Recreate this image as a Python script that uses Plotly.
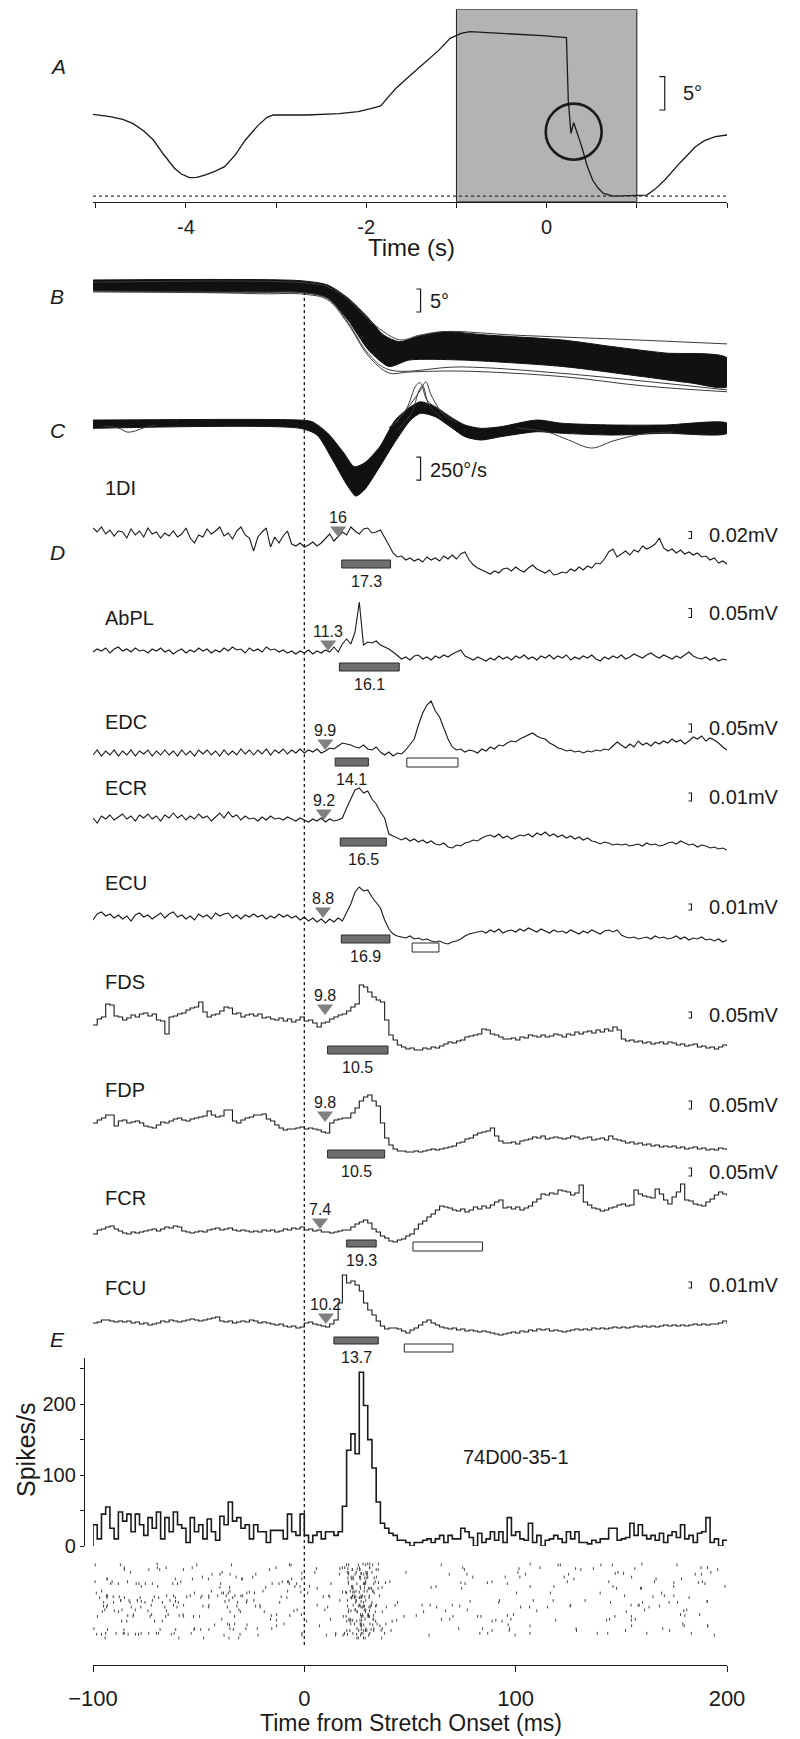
import plotly.graph_objects as go

W, H = 800, 1739
FONT = "Liberation Sans, Arial, Helvetica, sans-serif"
INK = "#1a1a1a"


def yp(p):
    return 1 - p / H


def xp(p):
    return p / W


# ------------------------------------------------------------------ data
# Panel A: wrist angle during a whole trial (s, degrees above the flexion limit)
A_TIME = [-5.03, -4.84, -4.7, -4.59, -4.47, -4.36, -4.25, -4.13, -4.05, -3.96, -3.88, -3.79, -3.68,
          -3.57, -3.45, -3.34, -3.2, -3.1, -3.03, -2.66, -2.3, -2.09, -1.95, -1.84, -1.76, -1.67,
          -1.52, -1.36, -1.2, -1.07, -0.95, -0.85, -0.62, -0.39, -0.05, 0.22, 0.23, 0.24, 0.26,
          0.27, 0.29, 0.30, 0.32, 0.34, 0.37, 0.40, 0.45, 0.51, 0.57, 0.63, 0.74, 1.11, 1.2, 1.31,
          1.48, 1.65, 1.75, 1.87, 2.0]
A_ANGLE = [12.25, 11.9, 11.5, 10.9, 9.8, 8.4, 6.3, 4.2, 3.3, 2.75, 2.8, 3.15, 3.7,
           4.4, 6.2, 8.4, 10.6, 11.8, 12.15, 12.15, 12.35, 12.65, 13.1, 13.5, 14.8, 16.15,
           18.0, 19.9, 21.8, 23.65, 24.4, 24.65, 24.5, 24.25, 24.05, 23.75, 18.0, 14.4, 11.0,
           9.4, 10.5, 11.0, 10.2, 9.5, 8.2, 6.9, 4.5, 2.4, 1.2, 0.4, 0.0, 0.15, 1.0, 2.4,
           5.0, 7.4, 8.3, 8.9, 9.15]
A_WINDOW = (-1.0, 1.0)
A_CIRCLE = (0.30, 9.65)

# Panel B: angle, envelope of the overlaid trials (ms, deg)
B_UP_T = [-100, -2, 11, 20.6, 30.3, 37.5, 44.9, 54.5, 66.6, 86, 122, 146, 170.7, 200]
B_UP = [0, -0.15, -1.09, -3.91, -8.26, -11.96, -13.41, -12.17, -11.24, -11.96, -13.04, -14.5, -15.87, -16.96]
B_LO_T = [-100, -40, -1, 11, 20.6, 30.3, 40, 49.7, 74, 122, 160, 183, 200]
B_LO = [-2.33, -2.6, -2.72, -3.91, -8.7, -15.2, -18.8, -17.4, -17.4, -18.8, -21.0, -22.4, -23.2]
B_STRAY = [
    ([-100, 0, 11, 20.6, 30.3, 44.9, 54.5, 66.6, 100, 150, 200],
     [-0.5, -0.6, -1.5, -4.2, -8.6, -13.0, -12.0, -11.2, -12.0, -12.9, -13.9]),
    ([-100, -40, -20, 0, 11, 20.6, 30.3, 40, 49.7, 74, 122, 160, 200],
     [-2.6, -2.8, -3.0, -3.1, -4.3, -9.5, -16.5, -20.2, -20.0, -19.8, -21.0, -23.0, -24.3]),
    ([-100, -20, 0, 11, 20.6, 30.3, 40, 74, 122, 200],
     [-2.4, -2.7, -2.8, -4.0, -9.2, -16.0, -19.5, -18.9, -20.3, -23.9]),
]

# Panel C: angular velocity envelope (ms, deg/s)
C_UP_T = [-100, -2, 3.7, 11, 18.7, 23.6, 28.4, 35.7, 43, 50.3, 55, 62, 69, 76, 83.5, 93, 110, 122, 146, 170.7, 200]
C_UP = [43, 43, 25, -98, -315, -464, -424, -247, 43, 188, 242, 188, 79, -11, -47, -29, 43, 8, -11, -11, 8]
C_LO_T = [-100, -2, 6, 13.4, 20.7, 24.4, 28.4, 35.7, 43, 50.3, 55, 62, 69, 76, 83.5, 93, 110, 122, 146, 170.7, 200]
C_LO = [-47, -47, -120, -391, -682, -783, -717, -464, -192, 43, 116, 79, -29, -138, -174, -138, -84, -101, -120, -101, -101]
C_STRAY = [
    ([40, 48, 53, 55, 58, 64, 70], [-43, 152, 424, 446, 261, 152, 65]),
    ([42, 50, 55, 57.5, 60, 66, 72], [-22, 207, 370, 457, 315, 98, 22]),
    ([44, 51, 54, 56, 59, 65], [-65, 130, 348, 413, 207, 65]),
    ([100, 115, 125, 136, 146, 160, 175], [-43, -87, -174, -261, -185, -109, -87]),
    ([-95, -88, -84, -80, -75, -70], [-22, -43, -87, -76, -33, -11]),
]

# Panel D: averaged rectified EMG (ms, relative amplitude)
T_MS = list(range(-100, 201, 2))
MUSCLES = ["1DI", "AbPL", "EDC", "ECR", "ECU", "FDS", "FDP", "FCR", "FCU"]
EMG_1DI = [12, 8, 13, 6, 10, 4, 9, 8, 2, 11,
           5, 9, 3, 12, 6, 8, 2, 7, 4, 9,
           3, 6, 12, 2, -3, 5, 3, 11, 6, 9,
           13, 4, 7, 1, 9, 13, 5, 2, -11, 3,
           8, 12, -7, 3, -3, 4, 9, -4, -6, -3,
           -7, -5, -2, -6, -3, 2, 6, -1, 4, 8,
           5, 13, 9, 6, 11, 12, 7, 8, 10, 3,
           -5, -13, -17, -16, -20, -18, -21, -19, -22, -17,
           -20, -18, -21, -16, -19, -15, -19, -14, -12, -20,
           -25, -28, -30, -32, -34, -31, -33, -29, -28, -31,
           -27, -30, -32, -28, -25, -29, -31, -33, -30, -35,
           -34, -32, -33, -29, -31, -27, -30, -26, -28, -23,
           -24, -19, -12, -9, -17, -14, -11, -15, -10, -12,
           -6, -9, -7, -4, 2, -8, -11, -9, -13, -10,
           -14, -12, -15, -13, -17, -16, -20, -18, -23, -21,
           -24]
EMG_ABPL = [0, 3, 1, 4, -1, 3, 5, 1, 3, 0,
            4, 1, 2, -1, 3, 1, 4, 0, 2, -2,
            1, 3, -1, 2, 0, 4, 1, 3, -1, 2,
            0, 4, 1, 5, 2, 3, -1, 4, 1, 3,
            0, 5, 2, 3, 0, 2, -1, 1, -2, 1,
            -1, 2, -2, 1, -1, 2, 0, 5, 0, 8,
            13, 8, 20, 50, 7, 10, 9, 11, 7, 5,
            3, 0, -4, -7, -5, -8, -4, -3, -7, -5,
            -8, -4, -6, -3, -5, -2, 0, 2, -4, -6,
            -8, -5, -7, -9, -6, -8, -4, -7, -5, -8,
            -4, -6, -3, -7, -5, -8, -4, -6, -3, -7,
            -4, -6, -3, -8, -5, -7, -4, -6, -3, -7,
            -9, -5, -7, -4, -6, -3, -7, -5, -2, -4,
            -6, -3, -1, -4, -6, -3, -5, -7, -4, -6,
            -3, 0, -4, -6, -7, -5, -8, -6, -9, -7,
            -8]
EMG_EDC = [-2, 3, -3, 2, -2, 3, -3, 2, -2, 3,
           -3, 2, -1, 3, -3, 2, -2, 3, -2, 2,
           -3, 3, -2, 2, -3, 3, -1, 3, -2, 2,
           -3, 3, -2, 2, -2, 4, -1, 3, -2, 3,
           -1, 4, -2, 3, 0, 4, -1, 3, 0, 4,
           0, 3, 1, 4, 0, 2, 5, 4, 7, 10,
           9, 8, 6, 5, 8, 4, 3, 6, 1, -2,
           1, -3, 0, -1, 3, 8, 14, 28, 40, 48,
           52, 42, 36, 25, 14, 6, 3, 4, 1, 3,
           2, 0, 4, 2, 6, 4, 8, 7, 10, 12,
           11, 14, 16, 18, 20, 17, 15, 14, 10, 8,
           5, 4, 2, 3, 1, 2, 0, 2, 1, 3,
           2, 4, 3, 7, 11, 8, 5, 9, 6, 12,
           8, 10, 7, 11, 9, 12, 10, 14, 11, 13,
           9, 12, 16, 14, 17, 12, 15, 13, 10, 6,
           3]
EMG_ECR = [2, -3, 4, 1, 5, 0, 3, 6, 1, 4,
           -1, 5, 2, 6, 1, 4, -1, 5, 2, 7,
           2, 5, 0, 4, 1, 6, 2, 4, -1, 3,
           7, 2, 8, 3, 5, 0, 4, 1, 2, -1,
           3, 0, 4, 1, 2, 0, 3, 1, -1, 2,
           0, -2, 1, -1, 2, -2, 1, -1, 0, 2,
           12, 21, 30, 32, 27, 29, 21, 16, 8, 2,
           -14, -16, -18, -20, -18, -21, -19, -22, -20, -23,
           -21, -24, -25, -23, -27, -28, -25, -26, -23, -22,
           -20, -21, -18, -16, -15, -17, -14, -18, -16, -19,
           -17, -15, -16, -14, -17, -13, -15, -12, -16, -14,
           -17, -15, -18, -16, -19, -17, -20, -18, -21, -22,
           -24, -22, -23, -25, -24, -25, -24, -26, -25, -24,
           -26, -23, -25, -24, -26, -25, -23, -22, -24, -21,
           -23, -25, -24, -27, -25, -26, -28, -27, -29, -28,
           -30]
EMG_ECU = [-3, 3, 5, 1, 3, -1, 2, -2, 1, -4,
           2, 4, 0, 2, -2, 1, 4, -1, 3, 5,
           0, 2, -2, 1, -3, 3, 0, 2, -2, 4,
           1, 3, 4, -1, 2, -2, 2, 0, 3, 0,
           2, -2, 1, -1, 3, 0, 2, -1, 1, -3,
           0, -4, -1, -5, -2, -6, -2, -5, -1, -4,
           4, 13, 25, 30, 26, 27, 20, 14, 9, -3,
           -12, -17, -19, -20, -21, -19, -22, -21, -23, -22,
           -24, -25, -24, -26, -27, -25, -24, -22, -19, -17,
           -16, -15, -14, -16, -13, -15, -12, -16, -14, -13,
           -15, -12, -14, -11, -13, -15, -12, -14, -16, -13,
           -15, -14, -16, -13, -15, -17, -14, -16, -13, -15,
           -17, -14, -13, -15, -13, -18, -20, -21, -20, -22,
           -21, -20, -22, -19, -21, -20, -22, -21, -19, -22,
           -20, -23, -21, -22, -20, -23, -22, -24, -22, -25,
           -23]
EMG_FDS = [-8, -2, 0, 13, 12, 1, 0, -3, -1, 2,
           0, 3, 4, 1, 3, -3, -4, -17, 0, 1,
           3, 4, 7, 9, 10, 15, 5, 0, 2, 3,
           6, 10, 9, 3, 4, 0, 2, 3, 1, 3,
           -1, 0, -2, -3, -1, -4, -2, -5, -3, 0,
           -4, -3, -6, -10, -6, -5, -2, 0, 2, 3,
           6, 10, 13, 32, 30, 25, 20, 17, 15, -3,
           -18, -23, -28, -30, -32, -31, -33, -33, -31, -32,
           -30, -31, -29, -27, -25, -26, -24, -23, -20, -19,
           -18, -17, -12, -13, -17, -18, -20, -22, -22, -21,
           -23, -20, -21, -18, -19, -20, -18, -20, -19, -17,
           -18, -20, -17, -18, -15, -17, -15, -14, -16, -13,
           -15, -12, -14, -10, -13, -22, -24, -23, -25, -24,
           -26, -25, -27, -26, -25, -27, -25, -26, -28, -27,
           -29, -28, -27, -30, -29, -31, -30, -32, -30, -28,
           -29]
EMG_FDP = [0, 3, 5, 8, 8, -3, 2, 3, 0, 1,
           2, 0, -3, -4, -5, -2, 1, 0, 2, 4,
           5, 3, 2, 4, 5, 6, 7, 12, 8, 6,
           7, 13, 13, 2, 0, 3, 5, 6, 8, 8,
           9, 4, 2, -2, -5, -7, -6, -6, -5, -4,
           -6, -5, -6, -7, -9, -10, 0, 3, 4, 5,
           5, 10, 15, 22, 26, 28, 22, 17, 0, -15,
           -22, -26, -28, -28, -29, -29, -28, -29, -28, -27,
           -26, -27, -26, -25, -24, -23, -20, -19, -16, -15,
           -12, -10, -9, -8, -5, -13, -18, -20, -20, -19,
           -21, -18, -17, -16, -14, -15, -13, -16, -15, -14,
           -15, -16, -15, -13, -14, -16, -15, -14, -17, -16,
           -15, -17, -13, -16, -17, -18, -20, -19, -21, -20,
           -22, -21, -23, -22, -24, -23, -24, -23, -25, -24,
           -26, -25, -24, -26, -25, -27, -26, -27, -25, -26,
           -27]
EMG_FCR = [-2, 2, 3, 5, 6, 3, 1, -1, -2, 0,
           -1, 0, 1, 2, 3, 1, 3, 5, 4, 6,
           5, 1, 0, -1, 0, 1, 0, 2, 3, 4,
           2, 3, 4, 2, 1, 2, 1, 0, 1, 0,
           2, 1, 2, 0, 1, 3, 2, 4, 3, 5,
           2, 3, 1, 2, 0, 0, -1, 0, 1, 2,
           2, 5, 8, 10, 12, 9, 3, 0, -4, -6,
           -9, -10, -8, -7, -4, -2, 3, 8, 11, 15,
           18, 22, 26, 25, 24, 22, 21, 23, 20, 22,
           25, 23, 26, 24, 27, 30, 32, 24, 25, 23,
           25, 22, 24, 26, 30, 33, 38, 37, 39, 38,
           42, 41, 40, 37, 39, 47, 30, 27, 24, 23,
           21, 22, 24, 25, 27, 28, 26, 27, 42, 38,
           36, 35, 34, 43, 38, 32, 28, 35, 40, 48,
           32, 31, 28, 27, 26, 30, 33, 37, 40, 38,
           36]
EMG_FCU = [0, 1, 3, 3, 2, 1, 2, 1, 2, 0,
           1, -1, 0, -2, -1, 0, 2, 1, 3, 2,
           1, 2, 3, 4, 3, 2, 3, 4, 5, 6,
           2, 1, 2, 0, 1, 2, 1, 3, 2, 0,
           1, 0, -1, -2, -1, -3, -4, -3, -5, -4,
           0, 1, -1, -2, -3, -4, -1, 3, 20, 48,
           40, 42, 38, 32, 20, 13, 8, 2, -3, -6,
           -5, -5, -6, -8, -10, -7, -5, -2, 1, 3,
           0, -2, -4, -5, -6, -5, -7, -6, -8, -7,
           -8, -9, -8, -9, -10, -11, -12, -11, -10, -9,
           -10, -8, -9, -7, -8, -6, -7, -6, -8, -7,
           -8, -9, -8, -7, -6, -7, -6, -7, -5, -6,
           -5, -6, -5, -4, -5, -4, -5, -4, -3, -4,
           -3, -4, -3, -4, -3, -2, -3, -2, -3, -2,
           -3, -2, -1, -2, -1, -2, -1, -1, 0, 2,
           -1]
EMG = [EMG_1DI, EMG_ABPL, EMG_EDC, EMG_ECR, EMG_ECU, EMG_FDS, EMG_FDP, EMG_FCR, EMG_FCU]
STEPPED = [False, False, False, False, False, True, True, True, True]
ONSET_MS = [16, 11.3, 9.9, 9.2, 8.8, 9.8, 9.8, 7.4, 10.2]
ONSET_TEXT = ["16", "11.3", "9.9", "9.2", "8.8", "9.8", "9.8", "7.4", "10.2"]
GRAY_START = [17.7, 16.6, 14.6, 17.0, 17.5, 11.0, 11.0, 20.0, 14.0]
GRAY_END = [40.8, 44.9, 30.3, 38.8, 40.5, 39.6, 38.0, 34.0, 35.0]
GRAY_TEXT = ["17.3", "16.1", "14.1", "16.5", "16.9", "10.5", "10.5", "19.3", "13.7"]
WHITE_START = [None, None, 48.5, None, 51.0, None, None, 51.4, 47.3]
WHITE_END = [None, None, 72.7, None, 63.7, None, None, 84.3, 70.3]
SCALE_TEXT = ["0.02mV", "0.05mV", "0.05mV", "0.01mV", "0.01mV", "0.05mV", "0.05mV", "0.05mV", "0.01mV"]

# Panel E: peri-event histogram (2 ms bins from -100 ms, spikes/s)
HIST_START, BIN_MS = -100, 2
HIST_RATE = [30, 10, 45, 55, 25, 10, 48, 35, 45, 20,
             45, 30, 15, 40, 25, 48, 10, 40, 20, 48,
             30, 25, 5, 40, 20, 30, 10, 38, 20, 8,
             42, 30, 62, 35, 40, 25, 30, 10, 30, 20,
             20, 5, 22, 22, 22, 10, 45, 20, 15, 45,
             15, 5, 15, 20, 10, 20, 20, 15, 20, 56,
             135, 158, 130, 245, 198, 150, 110, 62, 32, 25,
             18, 15, 8, 8, 5, 0, 5, 5, 8, 10,
             5, 10, 15, 5, 15, 10, 10, 25, 20, 12,
             0, 18, 5, 10, 20, 8, 20, 5, 40, 15,
             20, 10, 8, 32, 5, 15, 0, 8, 10, 15,
             10, 5, 20, 10, 20, 5, 5, 3, 8, 5,
             10, 10, 25, 25, 8, 10, 12, 32, 15, 30,
             15, 10, 15, 8, 18, 5, 15, 20, 12, 30,
             10, 15, 5, 18, 20, 40, 5, 10, 0, 8]
N_TRIALS = 80
UNIT_NAME = "74D00-35-1"

# ------------------------------------------------------------------ layout geometry (pixels)
PLOT_L, PLOT_R = 93, 727
EMG_BASE = [540, 652, 753, 820, 917, 1017, 1123, 1232, 1323]
NAME_Y = [488, 618, 722, 788, 883, 982, 1090, 1198, 1288]
TRI_AMP = [10, 8, 10, 7, 6, 9, 8, 10, 6]
GRAY_Y = [(-20, -28), (-11, -19), (-5, -13), (-18, -26), (-18, -26), (-29, -37), (-27, -35), (-8, -15), (-14, -21)]
WHITE_Y = [None, None, (-5, -14), None, (-26, -35), None, None, (-10, -19), (-21, -29)]
SCALE_C = [5, 39, 25, 23, 10, 2, 18, 60, 38]
SCALE_H = [7, 9, 8, 8, 6, 6, 8, 8, 6]

fig = go.Figure()
shapes, annos = [], []


def ann(text, x, y, size, xref="paper", yref="paper", xanchor="center", yanchor="middle", **kw):
    annos.append(dict(text=text, x=x, y=y, xref=xref, yref=yref, xanchor=xanchor, yanchor=yanchor,
                      showarrow=False, font=dict(family=FONT, size=size, color=INK), **kw))


def bracket(xa, ya, xl, xr, y0, y1, w=1.2):
    fig.add_trace(go.Scatter(x=[xl, xr, xr, xl], y=[y1, y1, y0, y0], mode="lines",
                             line=dict(color=INK, width=w), xaxis=xa, yaxis=ya, hoverinfo="skip"))


# ---- Panel A
A_YR = (-0.85, 28.0)
shapes.append(dict(type="rect", xref="x", yref="y", x0=A_WINDOW[0], x1=A_WINDOW[1], y0=A_YR[0], y1=A_YR[1],
                   fillcolor="#b3b3b3", line=dict(color=INK, width=1), layer="below"))
shapes.append(dict(type="line", xref="x", yref="y", x0=-5.03, x1=2.0, y0=0, y1=0,
                   line=dict(color="#333", width=1.3, dash="dot")))
fig.add_trace(go.Scatter(x=A_TIME, y=A_ANGLE, mode="lines", line=dict(color=INK, width=1.3),
                         xaxis="x", yaxis="y", hoverinfo="skip"))
shapes.append(dict(type="circle", xref="x", yref="y", x0=A_CIRCLE[0] - 0.31, x1=A_CIRCLE[0] + 0.31,
                   y0=A_CIRCLE[1] - 4.2, y1=A_CIRCLE[1] + 4.2, line=dict(color=INK, width=2.6)))
bracket("x", "y", 1.25, 1.31, 12.9, 17.9)
ann("5°", 1.49, 15.4, 20, xref="x", yref="y", xanchor="left")
ann("Time (s)", xp(411), yp(248), 24)

# ---- Panel B
fig.add_trace(go.Scatter(x=B_UP_T + B_LO_T[::-1], y=B_UP + B_LO[::-1], mode="lines", fill="toself",
                         fillcolor="#111", line=dict(color="#111", width=1, shape="spline", smoothing=0.7),
                         xaxis="x2", yaxis="y2", hoverinfo="skip"))
for tx, ty in B_STRAY:
    fig.add_trace(go.Scatter(x=tx, y=ty, mode="lines", line=dict(color="#3a3a3a", width=1, shape="spline"),
                             xaxis="x2", yaxis="y2", hoverinfo="skip"))
bracket("x2", "y2", 53.0, 55.0, -6.96, -1.96)
ann("5°", 58.5, -4.5, 20, xref="x2", yref="y2", xanchor="left")

# ---- Panel C
fig.add_trace(go.Scatter(x=C_UP_T + C_LO_T[::-1], y=C_UP + C_LO[::-1], mode="lines", fill="toself",
                         fillcolor="#111", line=dict(color="#111", width=1, shape="spline", smoothing=0.7),
                         xaxis="x2", yaxis="y3", hoverinfo="skip"))
for tx, ty in C_STRAY:
    fig.add_trace(go.Scatter(x=tx, y=ty, mode="lines", line=dict(color="#3a3a3a", width=1, shape="spline"),
                             xaxis="x2", yaxis="y3", hoverinfo="skip"))
bracket("x2", "y3", 53.0, 55.0, -609, -359)
ann("250°/s", 58.5, -505, 20, xref="x2", yref="y3", xanchor="left")

# ---- Panel D
for i, name in enumerate(MUSCLES):
    ya = "y%d" % (4 + i)
    fig.add_trace(go.Scatter(x=T_MS, y=EMG[i], mode="lines",
                             line=dict(color=INK, width=1.1, shape="hv" if STEPPED[i] else "linear"),
                             xaxis="x2", yaxis=ya, hoverinfo="skip"))
    fig.add_trace(go.Scatter(x=[ONSET_MS[i]], y=[TRI_AMP[i]], mode="markers",
                             marker=dict(symbol="triangle-down", size=14, color="#808080", line=dict(width=0)),
                             xaxis="x2", yaxis=ya, hoverinfo="skip"))
    ann(ONSET_TEXT[i], ONSET_MS[i], TRI_AMP[i] + 13, 16, xref="x2", yref=ya)
    gt, gb = GRAY_Y[i]
    shapes.append(dict(type="rect", xref="x2", yref=ya, x0=GRAY_START[i], x1=GRAY_END[i], y0=gb, y1=gt,
                       fillcolor="#6e6e6e", line=dict(color="#2a2a2a", width=1)))
    ann(GRAY_TEXT[i], (GRAY_START[i] + GRAY_END[i]) / 2, gb - 3, 16, xref="x2", yref=ya, yanchor="top")
    if WHITE_START[i] is not None:
        wt, wb = WHITE_Y[i]
        shapes.append(dict(type="rect", xref="x2", yref=ya, x0=WHITE_START[i], x1=WHITE_END[i], y0=wb, y1=wt,
                           fillcolor="white", line=dict(color="#2a2a2a", width=1)))
    c, h = SCALE_C[i], SCALE_H[i]
    bracket("x2", ya, 181.8, 183.2, c - h / 2, c + h / 2, w=1.1)
    ann(SCALE_TEXT[i], 190.5, c, 20, xref="x2", yref=ya, xanchor="left")
    ann(name, xp(103), yp(NAME_Y[i]), 20, xanchor="left")

# ---- Panel E histogram
hx = [HIST_START] + [HIST_START + BIN_MS * k for k in range(len(HIST_RATE))] + [HIST_START + BIN_MS * len(HIST_RATE)]
hy = [0] + HIST_RATE + [HIST_RATE[-1]]
fig.add_trace(go.Scatter(x=hx, y=hy, mode="lines", line=dict(color=INK, width=1.6, shape="hv"),
                         xaxis="x2", yaxis="y13", hoverinfo="skip"))
ann(UNIT_NAME, 100.3, 125, 20, xref="x2", yref="y13")
ann("Spikes/s", xp(26), yp(1450), 25, textangle=-90)

# raster: spike counts per bin follow the histogram; spikes are spread over trials
spk_t, spk_r = [], []
k = 0
for i, rate in enumerate(HIST_RATE):
    n = int(round(rate * BIN_MS / 1000.0 * N_TRIALS))
    for j in range(n):
        k += 1
        frac_t = ((k * k * 11 + k * 7) % 23) / 23.0
        row = (k * k * 31 + k * 17 + i * 5) % N_TRIALS
        spk_t.append(HIST_START + i * BIN_MS + BIN_MS * frac_t)
        spk_r.append(row)
fig.add_trace(go.Scatter(x=spk_t, y=spk_r, mode="markers",
                         marker=dict(symbol="line-ns-open", size=2, color="#444", line=dict(width=1, color="#444")),
                         xaxis="x2", yaxis="y14", hoverinfo="skip"))
ann("Time from Stretch Onset (ms)", xp(411), yp(1723), 23)

# vertical stretch-onset line
shapes.append(dict(type="line", xref="x2", yref="paper", x0=0, x1=0, y0=yp(1645), y1=yp(292),
                   line=dict(color=INK, width=1.3, dash="dot")))

# panel letters
for letter, yy in [("A", 53), ("B", 283), ("C", 417), ("D", 539), ("E", 1353)]:
    annos.append(dict(text="<i>%s</i>" % letter, x=xp(48), y=yp(yy), xref="paper", yref="paper",
                      showarrow=False, font=dict(family=FONT, size=21, color=INK)))

# ------------------------------------------------------------------ axes
dom_x = [xp(PLOT_L), xp(PLOT_R)]
hidden = dict(visible=False, showgrid=False, zeroline=False, fixedrange=True, automargin=False)
layout = dict(
    width=W, height=H, autosize=False, margin=dict(l=0, r=0, t=0, b=0, pad=0, autoexpand=False),
    paper_bgcolor="white", plot_bgcolor="rgba(0,0,0,0)", showlegend=False,
    font=dict(family=FONT, color=INK),
    shapes=shapes, annotations=annos,
    xaxis=dict(domain=dom_x, range=[-5.03, 2.0], anchor="y", showline=True, linecolor=INK, linewidth=1.3,
               ticks="outside", ticklen=5, tickcolor=INK, tickvals=list(range(-5, 3)),
               ticktext=["", "-4", "", "-2", "", "0", "", ""], tickfont=dict(size=20, family=FONT),
               showgrid=False, zeroline=False, ticklabelstandoff=2, automargin=False),
    yaxis=dict(domain=[yp(201.7), yp(9.3)], range=list(A_YR), anchor="x", **hidden),
    xaxis2=dict(domain=dom_x, range=[-100, 200], anchor="y14", showline=True, linecolor=INK, linewidth=1.3,
                ticks="outside", ticklen=6, tickcolor=INK, tickvals=[-100, 0, 100, 200],
                tickfont=dict(size=22, family=FONT), showgrid=False, zeroline=False, ticklabelstandoff=7,
                automargin=False),
    yaxis2=dict(domain=[yp(400), yp(270)], range=[-26.09, 2.17], anchor="x2", **hidden),
    yaxis3=dict(domain=[yp(510), yp(370)], range=[-934.8, 587.0], anchor="x2", **hidden),
    yaxis13=dict(domain=[yp(1546), yp(1358)], range=[0, 265], anchor="free", position=xp(84),
                 showline=True, linecolor=INK, linewidth=1.3, ticks="outside", ticklen=4, tickcolor=INK,
                 tickvals=[0, 50, 100, 150, 200, 250], ticktext=["0", "", "100", "", "200", ""],
                 tickfont=dict(size=20, family=FONT), showgrid=False, zeroline=False, automargin=False),
    yaxis14=dict(domain=[yp(1665), yp(1560)], range=[-28.8, 83.2], anchor="x2", **hidden),
)
for i, base in enumerate(EMG_BASE):
    layout["yaxis%d" % (4 + i)] = dict(domain=[yp(base + 60), yp(base - 70)], range=[-60, 70], anchor="x2", **hidden)

fig.update_layout(**layout)
fig.write_html("out.html")
